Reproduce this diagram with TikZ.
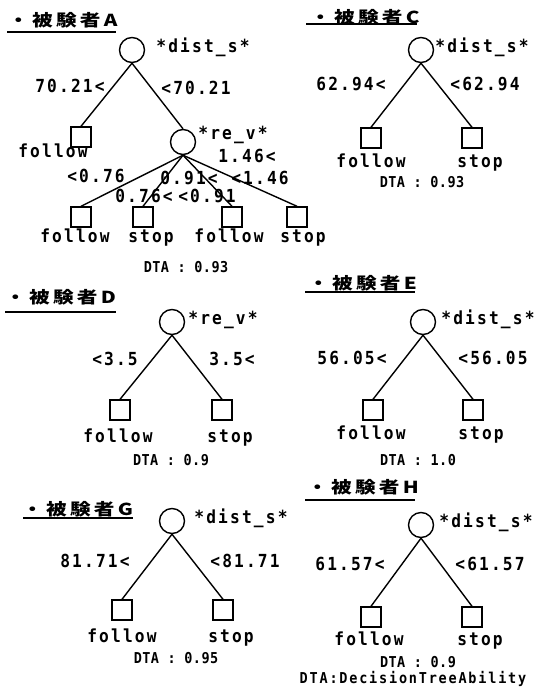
\documentclass[tikz,border=0pt]{standalone}
\usepackage{fontspec}
\newfontfamily\lblfont{DejaVu Sans Mono}[FakeStretch=0.9,LetterSpace=12]
\newfontfamily\dtafont{DejaVu Sans Mono}[FakeStretch=0.9,LetterSpace=3]
\newfontfamily\notefont{DejaVu Sans Mono}[FakeStretch=0.9,LetterSpace=12]
\newfontfamily\jpfont{Noto Sans CJK JP}[FakeStretch=1.25,LetterSpace=20]
\tikzset{
  split/.style={circle, draw, line width=1.4pt, minimum size=25pt, inner sep=0pt},
  leaf/.style={rectangle, draw, line width=1.4pt, minimum size=20pt, inner sep=0pt},
  lbl/.style={font=\lblfont\bfseries\fontsize{18}{18}\selectfont, inner sep=0pt, anchor=mid},
  dta/.style={font=\dtafont\bfseries\fontsize{15}{15}\selectfont, inner sep=0pt, anchor=mid},
  note/.style={font=\notefont\bfseries\fontsize{15}{15}\selectfont, inner sep=0pt, anchor=mid},
  ttl/.style={font=\jpfont\bfseries\fontsize{16.5}{16.5}\selectfont, inner sep=0pt, anchor=west},
  branch/.style={line width=1.4pt},
  uline/.style={line width=1.1pt}
}
\begin{document}
\begin{tikzpicture}[x=1pt,y=-1pt]
\useasboundingbox[fill=white] (0,0) rectangle (546,695);

% ---------- subject A ----------
\node[ttl] (tA) at (8,20) {・被験者A};
\draw[uline] (7,32) -- (116,32);
\node[split] (a0) at (132,50) {};
\node[lbl] at (203,50) {*dist\_s*};
\node[leaf] (a1) at (81,137) {};
\node[split] (a2) at (183,142) {};
\node[lbl] at (233,137) {*re\_v*};
\node[leaf] (a3) at (81,217) {};
\node[leaf] (a4) at (143,217) {};
\node[leaf] (a5) at (232,217) {};
\node[leaf] (a6) at (297,217) {};
\draw[branch] (a0.south) -- (a1.north);
\draw[branch] (a0.south) -- (a2.north);
\draw[branch] (a2.south) -- (a3.north);
\draw[branch] (a2.south) -- (a4.north);
\draw[branch] (a2.south) -- (a5.north);
\draw[branch] (a2.south) -- (a6.north);
\node[lbl] at (70,90) {70.21<};
\node[lbl] at (196,92) {<70.21};
\node[lbl] at (53,155) {follow};
\node[lbl] at (247,160) {1.46<};
\node[lbl] at (96,180) {<0.76};
\node[lbl] at (189,182) {0.91<};
\node[lbl] at (260,182) {<1.46};
\node[lbl] at (144,200) {0.76<};
\node[lbl] at (207,200) {<0.91};
\node[lbl] at (75,240) {follow};
\node[lbl] at (151,240) {stop};
\node[lbl] at (229,240) {follow};
\node[lbl] at (303,240) {stop};
\node[dta] at (186,270) {DTA : 0.93};

% ---------- subject C ----------
\node[ttl] (tC) at (310,17) {・被験者C};
\draw[uline] (306,24) -- (417,24);
\node[split] (c0) at (421,50) {};
\node[lbl] at (482,50) {*dist\_s*};
\node[leaf] (c1) at (371,138) {};
\node[leaf] (c2) at (472,138) {};
\draw[branch] (c0.south) -- (c1.north);
\draw[branch] (c0.south) -- (c2.north);
\node[lbl] at (351,88) {62.94<};
\node[lbl] at (485,88) {<62.94};
\node[lbl] at (371,165) {follow};
\node[lbl] at (480,165) {stop};
\node[dta] at (422,185) {DTA : 0.93};

% ---------- subject D ----------
\node[ttl] (tD) at (5,297) {・被験者D};
\draw[uline] (5,312) -- (116,312);
\node[split] (d0) at (172,322) {};
\node[lbl] at (223,322) {*re\_v*};
\node[leaf] (d1) at (120,410) {};
\node[leaf] (d2) at (222,410) {};
\draw[branch] (d0.south) -- (d1.north);
\draw[branch] (d0.south) -- (d2.north);
\node[lbl] at (115,363) {<3.5};
\node[lbl] at (232,363) {3.5<};
\node[lbl] at (118,440) {follow};
\node[lbl] at (230,440) {stop};
\node[dta] at (171,463) {DTA : 0.9};

% ---------- subject E ----------
\node[ttl] (tE) at (308,283) {・被験者E};
\draw[uline] (305,292) -- (415,292);
\node[split] (e0) at (423,322) {};
\node[lbl] at (488,322) {*dist\_s*};
\node[leaf] (e1) at (373,410) {};
\node[leaf] (e2) at (473,410) {};
\draw[branch] (e0.south) -- (e1.north);
\draw[branch] (e0.south) -- (e2.north);
\node[lbl] at (352,362) {56.05<};
\node[lbl] at (493,362) {<56.05};
\node[lbl] at (371,437) {follow};
\node[lbl] at (481,437) {stop};
\node[dta] at (418,463) {DTA : 1.0};

% ---------- subject G ----------
\node[ttl] (tG) at (22,509) {・被験者G};
\draw[uline] (23,518) -- (133,518);
\node[split] (g0) at (172,521) {};
\node[lbl] at (241,521) {*dist\_s*};
\node[leaf] (g1) at (122,610) {};
\node[leaf] (g2) at (223,610) {};
\draw[branch] (g0.south) -- (g1.north);
\draw[branch] (g0.south) -- (g2.north);
\node[lbl] at (95,565) {81.71<};
\node[lbl] at (245,565) {<81.71};
\node[lbl] at (122,640) {follow};
\node[lbl] at (231,640) {stop};
\node[dta] at (176,661) {DTA : 0.95};

% ---------- subject H ----------
\node[ttl] (tH) at (307,487) {・被験者H};
\draw[uline] (305,500) -- (415,500);
\node[split] (h0) at (421,525) {};
\node[lbl] at (486,525) {*dist\_s*};
\node[leaf] (h1) at (371,617) {};
\node[leaf] (h2) at (472,617) {};
\draw[branch] (h0.south) -- (h1.north);
\draw[branch] (h0.south) -- (h2.north);
\node[lbl] at (350,568) {61.57<};
\node[lbl] at (490,568) {<61.57};
\node[lbl] at (369,643) {follow};
\node[lbl] at (480,643) {stop};
\node[dta] at (418,665) {DTA : 0.9};
\node[note] at (413,681) {DTA:DecisionTreeAbility};
\end{tikzpicture}
\end{document}
